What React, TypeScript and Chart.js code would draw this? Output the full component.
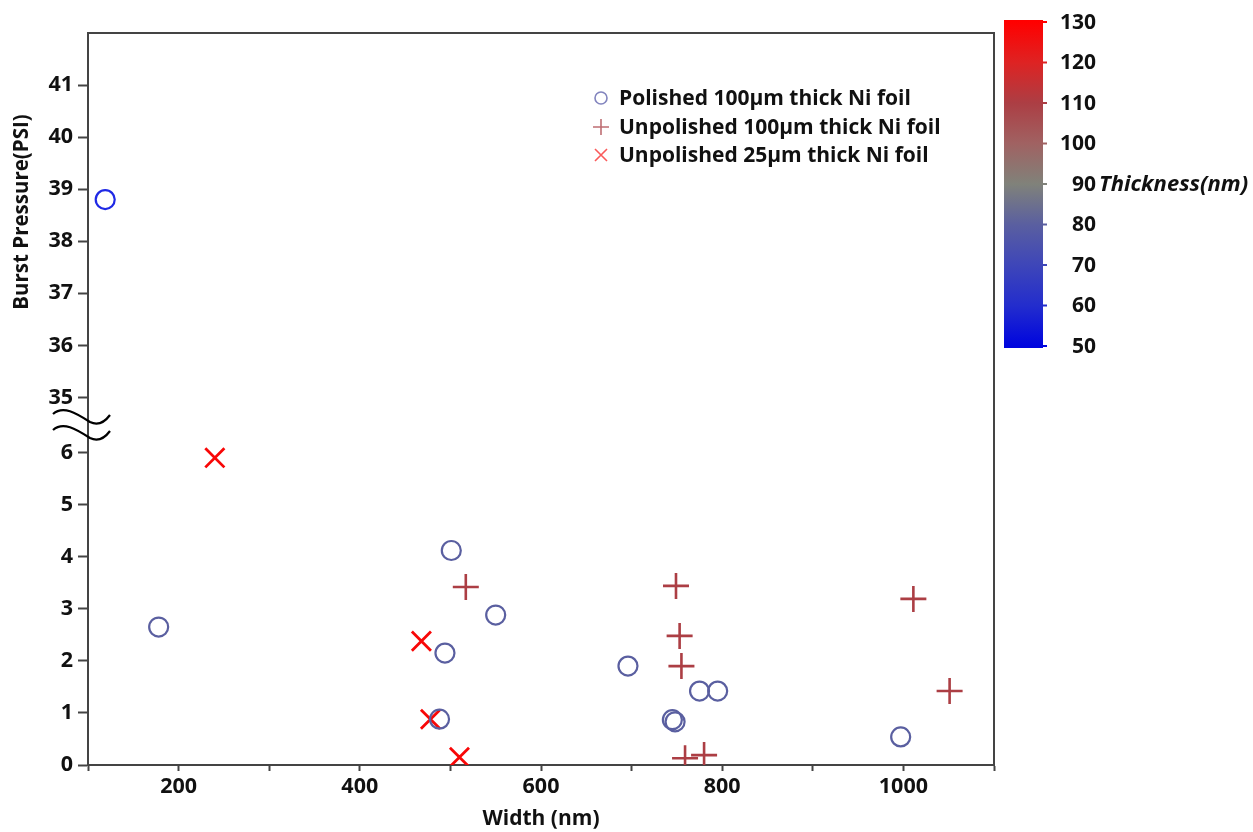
import React, { useEffect, useRef } from "react";
import { Chart, registerables } from "chart.js";

Chart.register(...registerables);

// ---- data ----
const polishedWidth = [119, 178, 501, 550, 494, 488, 696, 745, 748, 775, 795, 997];
const polishedPressure = [38.8, 2.65, 4.12, 2.88, 2.15, 0.88, 1.9, 0.87, 0.83, 1.42, 1.42, 0.54];
const polishedThickness = [56, 80, 80, 80, 80, 80, 80, 80, 80, 80, 80, 80];

const unpol100Width = [517, 749, 753, 755, 759, 780, 1011, 1051];
const unpol100Pressure = [3.42, 3.44, 2.48, 1.9, 0.13, 0.19, 3.19, 1.42];
const unpol100Thickness = [110, 110, 110, 110, 110, 110, 110, 110];

const unpol25Width = [240, 468, 478, 510];
const unpol25Pressure = [5.9, 2.38, 0.88, 0.15];
const unpol25Thickness = [128, 128, 128, 128];

const lowerTicks = [0, 1, 2, 3, 4, 5, 6];
const upperTicks = [35, 36, 37, 38, 39, 40, 41];
const colorbarTicks = [130, 120, 110, 100, 90, 80, 70, 60, 50];
const seriesLabels = [
  "Polished 100µm thick Ni foil",
  "Unpolished 100µm thick Ni foil",
  "Unpolished 25µm thick Ni foil",
];

// colour map stops (thickness -> rgb)
const cmapValues = [50, 55, 60, 70, 80, 90, 100, 110, 120, 130];
const cmapColors = [
  [0, 5, 222],
  [30, 40, 235],
  [35, 45, 205],
  [62, 70, 185],
  [90, 95, 160],
  [128, 130, 122],
  [160, 98, 98],
  [172, 62, 68],
  [222, 35, 35],
  [255, 0, 0],
];

const BREAK_LOW = 6;
const BREAK_HIGH = 35;
const BREAK_POS = 7.06; // where 35 sits on the compressed axis
const BREAK_OFFSET = BREAK_HIGH - BREAK_POS;

const mapY = (v: number) => (v > 20 ? v - BREAK_OFFSET : v);
const unmapY = (v: number) => (v > BREAK_LOW + 0.5 ? Math.round(v + BREAK_OFFSET) : Math.round(v));

function cmap(t: number): string {
  if (t <= cmapValues[0]) return `rgb(${cmapColors[0].join(",")})`;
  for (let i = 1; i < cmapValues.length; i++) {
    if (t <= cmapValues[i]) {
      const f = (t - cmapValues[i - 1]) / (cmapValues[i] - cmapValues[i - 1]);
      const a = cmapColors[i - 1];
      const b = cmapColors[i];
      const c = a.map((v, k) => Math.round(v + (b[k] - v) * f));
      return `rgb(${c.join(",")})`;
    }
  }
  return `rgb(${cmapColors[cmapColors.length - 1].join(",")})`;
}

const FONT = "'Open Sans', 'DejaVu Sans', sans-serif";

const decorPlugin = {
  id: "decor",
  afterDraw(chart: any) {
    const ctx = chart.ctx as CanvasRenderingContext2D;
    const ca = chart.chartArea;
    ctx.save();
    // frame
    ctx.strokeStyle = "#444";
    ctx.lineWidth = 2;
    ctx.beginPath();
    ctx.moveTo(ca.left, ca.top);
    ctx.lineTo(ca.right, ca.top);
    ctx.lineTo(ca.right, ca.bottom);
    ctx.stroke();

    // axis break squiggles
    const yS = chart.scales.y;
    const yMid = (yS.getPixelForValue(BREAK_LOW) + yS.getPixelForValue(BREAK_POS)) / 2;
    ctx.strokeStyle = "#000";
    ctx.lineWidth = 2.2;
    for (const dy of [-8, 8]) {
      const c = yMid + dy;
      ctx.beginPath();
      ctx.moveTo(ca.left - 35, c - 3);
      ctx.bezierCurveTo(ca.left - 25, c - 12, ca.left - 12, c - 4, ca.left + 2, c + 5);
      ctx.bezierCurveTo(ca.left + 10, c + 9, ca.left + 16, c + 6, ca.left + 22, c - 2);
      ctx.stroke();
    }

    // legend
    const lx = 601;
    const rows = [98, 127, 155];
    ctx.font = `bold 21px ${FONT}`;
    ctx.textBaseline = "middle";
    ctx.textAlign = "left";
    rows.forEach((ry, i) => {
      ctx.lineWidth = 1.6;
      if (i === 0) {
        ctx.strokeStyle = "rgb(130,132,190)";
        ctx.beginPath();
        ctx.arc(lx, ry, 6, 0, Math.PI * 2);
        ctx.stroke();
      } else if (i === 1) {
        ctx.strokeStyle = "rgb(190,110,115)";
        ctx.beginPath();
        ctx.moveTo(lx - 8, ry);
        ctx.lineTo(lx + 8, ry);
        ctx.moveTo(lx, ry - 8);
        ctx.lineTo(lx, ry + 8);
        ctx.stroke();
      } else {
        ctx.strokeStyle = "rgb(250,90,90)";
        ctx.beginPath();
        ctx.moveTo(lx - 6, ry - 6);
        ctx.lineTo(lx + 6, ry + 6);
        ctx.moveTo(lx + 6, ry - 6);
        ctx.lineTo(lx - 6, ry + 6);
        ctx.stroke();
      }
      ctx.fillStyle = "#111";
      ctx.fillText(seriesLabels[i], 619, ry + 1);
    });

    // colour bar
    const bx = 1004;
    const bw = 39;
    const vTop = colorbarTicks[0];
    const vBot = colorbarTicks[colorbarTicks.length - 1];
    const yTop = 22;
    const yBot = 346;
    const vy = (v: number) => yBot - ((v - vBot) / (vTop - vBot)) * (yBot - yTop);
    const grad = ctx.createLinearGradient(0, yTop, 0, yBot);
    cmapValues.forEach((v) => {
      if (v === 55) return;
      grad.addColorStop((vTop - v) / (vTop - vBot), cmap(v));
    });
    ctx.fillStyle = grad;
    ctx.fillRect(bx, yTop - 2, bw, yBot - yTop + 4);
    ctx.font = `bold 21px ${FONT}`;
    ctx.textAlign = "right";
    colorbarTicks.forEach((v) => {
      const y = vy(v);
      ctx.strokeStyle = cmap(v);
      ctx.lineWidth = 2;
      ctx.beginPath();
      ctx.moveTo(bx + bw, y);
      ctx.lineTo(bx + bw + 4, y);
      ctx.stroke();
      ctx.fillStyle = "#111";
      ctx.fillText(String(v), 1096, y + 1);
    });
    ctx.textAlign = "left";
    ctx.font = `italic bold 22px ${FONT}`;
    ctx.fillText("Thickness(nm)", 1099, vy(90) + 1);

    // axis titles
    ctx.font = `bold 20.5px ${FONT}`;
    ctx.fillStyle = "#111";
    ctx.textAlign = "center";
    ctx.save();
    ctx.translate(22, 212);
    ctx.rotate(-Math.PI / 2);
    ctx.fillText("Burst Pressure(PSI)", 0, 0);
    ctx.restore();
    ctx.font = `bold 21px ${FONT}`;
    ctx.textBaseline = "top";
    ctx.fillText("Width (nm)", 541, 809);
    ctx.restore();
  },
};

export default function App() {
  const ref = useRef<HTMLCanvasElement | null>(null);
  useEffect(() => {
    document.body.style.margin = "0";
    const canvas = ref.current!;
    const mk = (xs: number[], ys: number[]) => xs.map((x, i) => ({ x, y: mapY(ys[i]) }));
    const clip = { left: 30, right: 30, top: 30, bottom: 0 };
    const chart = new Chart(canvas, {
      type: "scatter",
      data: {
        datasets: [
          {
            label: seriesLabels[0],
            data: mk(polishedWidth, polishedPressure),
            pointStyle: "circle",
            pointRadius: 9.5,
            pointBorderWidth: 2.2,
            pointBackgroundColor: "rgba(0,0,0,0)",
            pointBorderColor: polishedThickness.map(cmap),
            clip,
          },
          {
            label: seriesLabels[1],
            data: mk(unpol100Width, unpol100Pressure),
            pointStyle: "cross",
            pointRadius: 13,
            pointBorderWidth: 2.6,
            pointBackgroundColor: "rgba(0,0,0,0)",
            pointBorderColor: unpol100Thickness.map(cmap),
            clip,
          },
          {
            label: seriesLabels[2],
            data: mk(unpol25Width, unpol25Pressure),
            pointStyle: "crossRot",
            pointRadius: 13.5,
            pointBorderWidth: 2.8,
            pointBackgroundColor: "rgba(0,0,0,0)",
            pointBorderColor: unpol25Thickness.map(cmap),
            clip,
          },
        ],
      },
      options: {
        animation: false,
        responsive: false,
        maintainAspectRatio: false,
        layout: { padding: { top: 33, right: 259, left: 0, bottom: 0 } },
        plugins: {
          legend: { display: false },
          tooltip: { enabled: false },
        },
        scales: {
          x: {
            type: "linear",
            min: 100,
            max: 1100,
            afterFit: (s: any) => {
              s.height = 67;
            },
            border: { display: true, color: "#444", width: 2 },
            grid: {
              drawOnChartArea: false,
              drawTicks: true,
              tickLength: 6,
              tickWidth: 2,
              tickColor: "#444",
            },
            ticks: {
              stepSize: 100,
              autoSkip: false,
              maxRotation: 0,
              padding: 3,
              color: "#111",
              font: { family: FONT, size: 21.5, weight: "bold" },
              callback: (v: any) => (v % 200 === 0 ? String(v) : ""),
            },
          },
          y: {
            type: "linear",
            min: 0,
            max: 14.06,
            afterFit: (s: any) => {
              s.width = 88;
            },
            afterBuildTicks: (s: any) => {
              s.ticks = [...lowerTicks.map((v) => mapY(v)), ...upperTicks.map((v) => mapY(v))].map((v) => ({ value: v }));
            },
            border: { display: true, color: "#444", width: 2 },
            grid: {
              drawOnChartArea: false,
              drawTicks: true,
              tickLength: 10,
              tickWidth: 2,
              tickColor: "#444",
            },
            ticks: {
              autoSkip: false,
              padding: 5,
              color: "#111",
              font: { family: FONT, size: 21.5, weight: "bold" },
              callback: (v: any) => String(unmapY(Number(v))),
            },
          },
        },
      },
      plugins: [decorPlugin],
    });
    return () => chart.destroy();
  }, []);
  return <canvas ref={ref} width={1253} height={832} style={{ display: "block" }} />;
}
